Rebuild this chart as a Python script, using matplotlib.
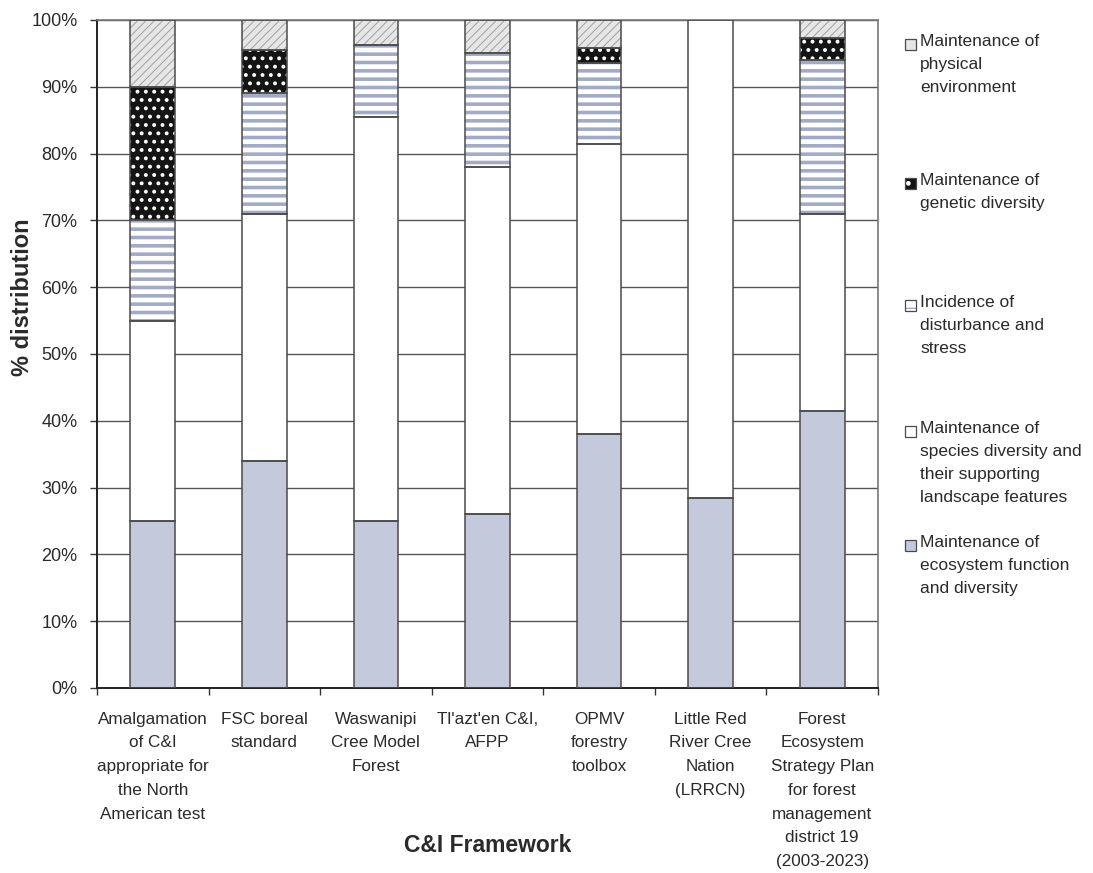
import numpy as np
import matplotlib
matplotlib.use("Agg")
import matplotlib.pyplot as plt
from matplotlib import font_manager
from matplotlib.patches import Rectangle

frameworks = [
    "Amalgamation\nof C&I\nappropriate for\nthe North\nAmerican test",
    "FSC boreal\nstandard",
    "Waswanipi\nCree Model\nForest",
    "Tl'azt'en C&I,\nAFPP",
    "OPMV\nforestry\ntoolbox",
    "Little Red\nRiver Cree\nNation\n(LRRCN)",
    "Forest\nEcosystem\nStrategy Plan\nfor forest\nmanagement\ndistrict 19\n(2003-2023)",
]

# % of indicators in each criterion, bottom to top of each stack
ecosystem = [25, 34, 25, 26, 38, 28.5, 41.5]
species = [30, 37, 60.5, 52, 43.5, 71.5, 29.5]
disturbance = [15, 18, 10.8, 17, 12, 0, 23]
genetic = [20, 6.5, 0, 0, 2.3, 0, 3.3]
physical = [10, 4.5, 3.7, 5, 4.2, 0, 2.7]

series_labels = [
    "Maintenance of\necosystem function\nand diversity",
    "Maintenance of\nspecies diversity and\ntheir supporting\nlandscape features",
    "Incidence of\ndisturbance and\nstress",
    "Maintenance of\ngenetic diversity",
    "Maintenance of\nphysical\nenvironment",
]
yticks = [0, 10, 20, 30, 40, 50, 60, 70, 80, 90, 100]

# fill, hatch, hatch colour, hatch line width
styles = [
    ("#c4c9dc", None, None, 0),
    ("white", None, None, 0),
    ("white", "--", "#a3abc4", 2.6),
    ("#141414", "..", "white", 1.6),
    ("#e6e6e6", "////", "#a0a0a0", 0.7),
]

names = {f.name for f in font_manager.fontManager.ttflist}
if "Liberation Sans Narrow" in names:
    cat_font, cat_size = "Liberation Sans Narrow", 14
else:
    cat_font, cat_size = "Liberation Sans", 12.3

plt.rcParams["font.family"] = ["Liberation Sans", "DejaVu Sans"]
text_col = "#2a2a2a"
edge_col = "#4a4a4a"

W, H = 1093, 873
fig = plt.figure(figsize=(W / 100, H / 100), dpi=100)
ax = fig.add_axes([97 / W, 1 - 688 / H, 781 / W, 668 / H])

x = np.arange(len(frameworks))
width = 0.4


def add_segment(ax, heights, bottoms, face, hatch, hcolor, hlw):
    heights = np.asarray(heights, float)
    keep = heights > 0
    xs, hs, bs = x[keep], heights[keep], bottoms[keep]
    ax.bar(xs, hs, width, bottom=bs, color=face, linewidth=0, zorder=2)
    if hatch:
        with plt.rc_context({"hatch.linewidth": hlw}):
            bars = ax.bar(xs, hs, width, bottom=bs, facecolor="none",
                          edgecolor=hcolor, hatch=hatch, linewidth=0, zorder=3)
            for b in bars:
                if hasattr(b, "set_hatch_linewidth"):
                    b.set_hatch_linewidth(hlw)
    ax.bar(xs, hs, width, bottom=bs, facecolor="none",
           edgecolor=edge_col, linewidth=1.1, zorder=4)


bottom = np.zeros(len(frameworks))
for values, (face, hatch, hcolor, hlw) in zip(
        [ecosystem, species, disturbance, genetic, physical], styles):
    add_segment(ax, values, bottom, face, hatch, hcolor, hlw)
    bottom = bottom + np.asarray(values, float)

ax.set_xlim(-0.5, len(frameworks) - 0.5)
ax.set_ylim(0, 100)
ax.set_yticks(yticks)
ax.set_yticklabels([f"{t}%" for t in yticks], fontsize=13, color=text_col)
ax.yaxis.grid(True, color="#555555", linewidth=1.0)
ax.set_axisbelow(True)
ax.tick_params(axis="y", length=5, width=1, pad=9, color="#333333")

ax.set_xticks(x)
ax.set_xticklabels(frameworks, fontsize=cat_size, family=cat_font,
                   color=text_col, linespacing=1.73)
ax.set_xticks(np.arange(len(frameworks) + 1) - 0.5, minor=True)
ax.tick_params(axis="x", which="major", length=0, pad=17)
ax.tick_params(axis="x", which="minor", length=5, width=1, color="#333333")

for side in ["left", "bottom"]:
    ax.spines[side].set_color("#222222")
    ax.spines[side].set_linewidth(1.4)
for side in ["top", "right"]:
    ax.spines[side].set_color("#777777")
    ax.spines[side].set_linewidth(1.2)

ax.set_ylabel("% distribution", fontsize=17, fontweight="bold", color=text_col)
ax.yaxis.set_label_coords(-0.081, 0.585)
ax.set_xlabel("C&I Framework", fontsize=16.5, fontweight="bold",
              color=text_col, va="center")
ax.xaxis.set_label_coords(0.5, (688 - 846) / 668)

# legend, top entry first, laid out in pixel rows to the right of the plot
legend_rows = [44, 183, 305, 431, 545]
for row, label, (face, hatch, hcolor, hlw) in zip(
        legend_rows, series_labels[::-1], styles[::-1]):
    pos = (905 / W, 1 - (row + 6) / H)
    size = (11 / W, 11 / H)
    fig.add_artist(Rectangle(pos, *size, transform=fig.transFigure,
                             facecolor=face, linewidth=0))
    if hatch:
        with plt.rc_context({"hatch.linewidth": min(hlw, 1.0)}):
            fig.add_artist(Rectangle(pos, *size, transform=fig.transFigure,
                                     facecolor="none", edgecolor=hcolor,
                                     hatch=hatch[0], linewidth=0))
    fig.add_artist(Rectangle(pos, *size, transform=fig.transFigure,
                             facecolor="none", edgecolor=edge_col,
                             linewidth=0.9))
    fig.text(920 / W, 1 - (row - 10) / H, label, fontsize=12.5,
             color=text_col, va="top", ha="left", linespacing=1.66)

fig.savefig("out.png", dpi=100, facecolor="white")
